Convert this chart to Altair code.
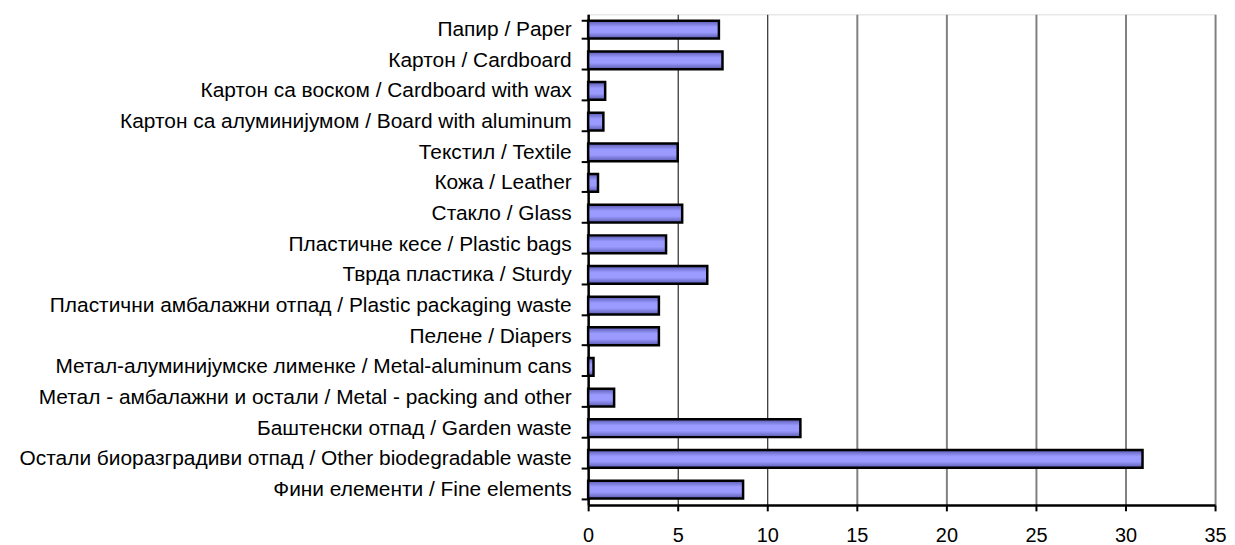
import altair as alt
import pandas as pd

categories = [
    "Папир / Paper",
    "Картон / Cardboard",
    "Картон са воском / Cardboard with wax",
    "Картон са алуминијумом / Board with aluminum",
    "Текстил / Textile",
    "Кожа / Leather",
    "Стакло / Glass",
    "Пластичне кесе / Plastic bags",
    "Тврда пластика / Sturdy",
    "Пластични амбалажни отпад / Plastic packaging waste",
    "Пелене / Diapers",
    "Метал-алуминијумске лименке / Metal-aluminum cans",
    "Метал - амбалажни и остали / Metal - packing and other",
    "Баштенски отпад / Garden waste",
    "Остали биоразградиви отпад / Other biodegradable waste",
    "Фини елементи / Fine elements",
]
values = [7.3, 7.5, 0.95, 0.85, 5.0, 0.55, 5.25, 4.35, 6.65, 3.95, 3.95, 0.3, 1.45, 11.85, 30.95, 8.65]
x_ticks = [0, 5, 10, 15, 20, 25, 30, 35]

df = pd.DataFrame({"category": categories, "value": values})

FONT = "Liberation Sans"

gradient = alt.Gradient(
    gradient="linear",
    x1=0, x2=0, y1=0, y2=1,
    stops=[
        alt.GradientStop(color="#5a5ab0", offset=0),
        alt.GradientStop(color="#9a9aff", offset=0.35),
        alt.GradientStop(color="#9a9aff", offset=0.65),
        alt.GradientStop(color="#5a5ab0", offset=1),
    ],
)

chart = (
    alt.Chart(df)
    .mark_bar(color=gradient, stroke="black", strokeWidth=2.5)
    .encode(
        y=alt.Y(
            "category:N",
            sort=categories,
            title=None,
            scale=alt.Scale(paddingInner=0.42, paddingOuter=0.21),
            axis=alt.Axis(
                tickBand="extent",
                domainColor="black",
                domainWidth=2.5,
                tickColor="black",
                tickWidth=2,
                tickSize=7,
                labelPadding=10,
                labelFont=FONT,
                labelFontSize=21,
                labelColor="black",
                labelLimit=0,
                grid=False,
            ),
        ),
        x=alt.X(
            "value:Q",
            title=None,
            scale=alt.Scale(domain=[0, 35], nice=False),
            axis=alt.Axis(
                values=x_ticks,
                domainColor="black",
                domainWidth=2.5,
                tickColor="black",
                tickWidth=2,
                tickSize=6,
                labelPadding=15,
                labelFont=FONT,
                labelFontSize=20,
                labelColor="black",
                labelFlush=False,
                grid=True,
                gridColor={"condition": {"test": "datum.value <= 10", "value": "#000000"}, "value": "#808080"},
                gridWidth={"condition": {"test": "datum.value <= 10", "value": 1}, "value": 2},
                gridOpacity=1,
            ),
        ),
    )
    .properties(
        width=630,
        height=493,
        autosize=alt.AutoSizeParams(type="none"),
        padding={"left": 583, "top": 5, "right": 12, "bottom": 45},
    )
    .configure_view(stroke="#808080", strokeWidth=2)
    .configure(background="white")
)

chart.save("out.html", embed_options={"renderer": "svg", "actions": False})
